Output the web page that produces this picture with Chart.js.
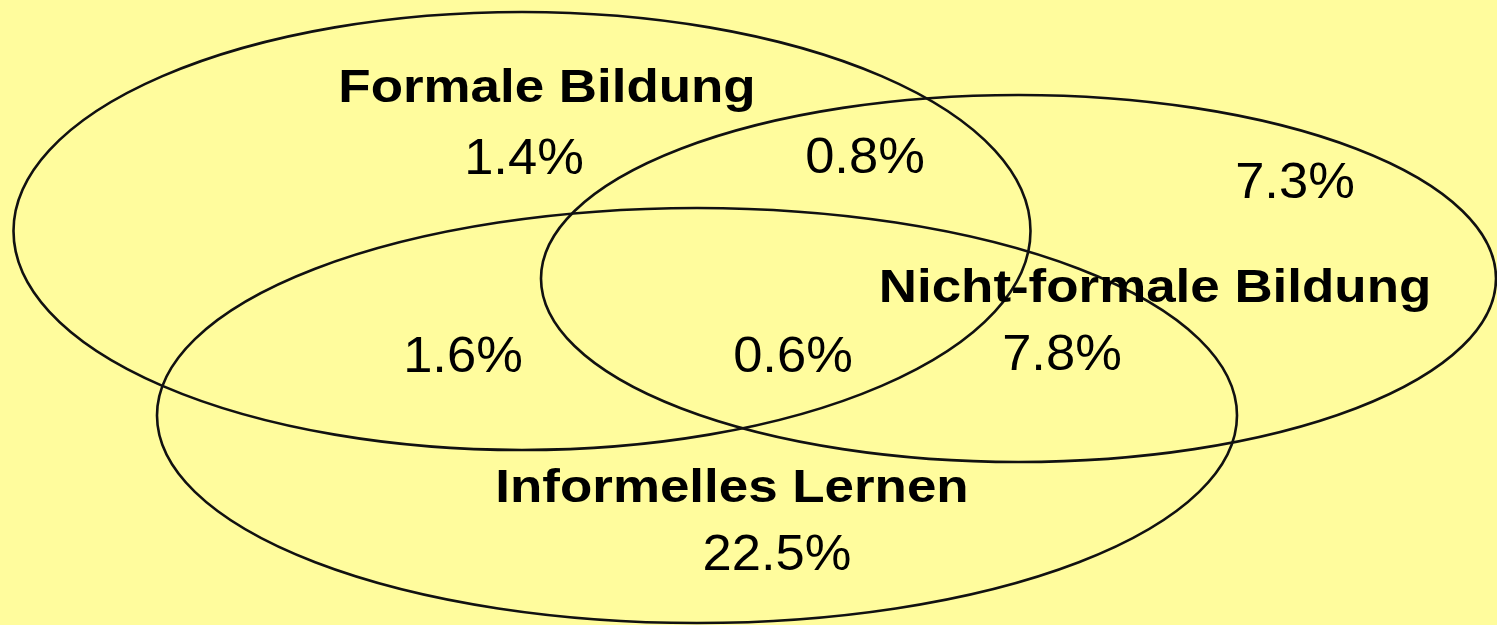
<!DOCTYPE html>
<html>
<head>
<meta charset="utf-8">
<script src="https://cdn.jsdelivr.net/npm/chart.js@4/dist/chart.umd.min.js"></script>
<style>
  html, body { margin: 0; padding: 0; background: #FFFC9D; }
  #wrap { width: 1497px; height: 625px; position: relative; }
</style>
</head>
<body>
<div id="wrap"><canvas id="c"></canvas></div>
<script>
// ---- data ----
const setNames = ['Formale Bildung', 'Nicht-formale Bildung', 'Informelles Lernen'];
const regionNames = ['nur Formale Bildung', 'Formale + Nicht-formale', 'nur Nicht-formale Bildung',
                     'Formale + Informelles', 'alle drei', 'Nicht-formale + Informelles', 'nur Informelles Lernen'];
const regionValues = [1.4, 0.8, 7.3, 1.6, 0.6, 7.8, 22.5];

// ---- layout (positions in the chart's coordinate space) ----
const ellipseCenterX = [522, 1018.5, 697];
const ellipseCenterY = [231, 278.5, 415.5];
const ellipseRadiusX = [508.5, 477.5, 540];
const ellipseRadiusY = [219, 183.5, 207.5];
const setLabelX = [547, 1155, 732];
const setLabelY = [102, 302, 502];
const regionLabelX = [524, 865, 1295, 463, 793, 1062, 777];
const regionLabelY = [174, 173, 198, 372, 372, 370, 570];

const valueFmt = v => v.toFixed(1) + '%';

const vennPlugin = {
  id: 'venn',
  beforeDraw(chart) {
    const {ctx, width, height} = chart;
    ctx.save();
    ctx.fillStyle = '#FFFC9D';
    ctx.fillRect(0, 0, width, height);
    ctx.restore();
  },
  afterDatasetsDraw(chart) {
    const {ctx, scales: {x, y}} = chart;
    ctx.save();
    ctx.strokeStyle = '#111';
    ctx.lineWidth = 2.6;
    for (let i = 0; i < ellipseCenterX.length; i++) {
      const cx = x.getPixelForValue(ellipseCenterX[i]);
      const cy = y.getPixelForValue(ellipseCenterY[i]);
      const rx = Math.abs(x.getPixelForValue(ellipseCenterX[i] + ellipseRadiusX[i]) - cx);
      const ry = Math.abs(y.getPixelForValue(ellipseCenterY[i] + ellipseRadiusY[i]) - cy);
      ctx.beginPath();
      ctx.ellipse(cx, cy, rx, ry, 0, 0, Math.PI * 2);
      ctx.stroke();
    }
    ctx.fillStyle = '#000';
    ctx.textAlign = 'center';
    ctx.textBaseline = 'alphabetic';
    // set names (bold)
    const setMeta = chart.getDatasetMeta(0);
    ctx.font = 'bold 46px "Liberation Sans", Arial, sans-serif';
    setMeta.data.forEach((pt, i) => {
      ctx.save();
      ctx.translate(pt.x, pt.y);
      ctx.scale(1.15, 1);
      ctx.fillText(setNames[i], 0, 0);
      ctx.restore();
    });
    // region values
    const regMeta = chart.getDatasetMeta(1);
    ctx.font = '50px "Liberation Sans", Arial, sans-serif';
    regMeta.data.forEach((pt, i) => {
      ctx.save();
      ctx.translate(pt.x, pt.y);
      ctx.scale(1.05, 1);
      ctx.fillText(valueFmt(regionValues[i]), 0, 0);
      ctx.restore();
    });
    ctx.restore();
  }
};

new Chart(document.getElementById('c'), {
  type: 'scatter',
  data: {
    datasets: [
      {
        label: 'Bereiche',
        data: setNames.map((n, i) => ({x: setLabelX[i], y: setLabelY[i]})),
        pointRadius: 0, pointHoverRadius: 0
      },
      {
        label: 'Anteile',
        data: regionValues.map((v, i) => ({x: regionLabelX[i], y: regionLabelY[i]})),
        pointRadius: 0, pointHoverRadius: 0
      }
    ]
  },
  options: {
    responsive: true,
    maintainAspectRatio: false,
    animation: false,
    layout: { padding: 0 },
    plugins: { legend: { display: false }, tooltip: { enabled: false } },
    scales: {
      x: { type: 'linear', min: 0, max: 1497, display: false },
      y: { type: 'linear', min: 0, max: 625, reverse: true, display: false }
    }
  },
  plugins: [vennPlugin]
});
</script>
</body>
</html>
